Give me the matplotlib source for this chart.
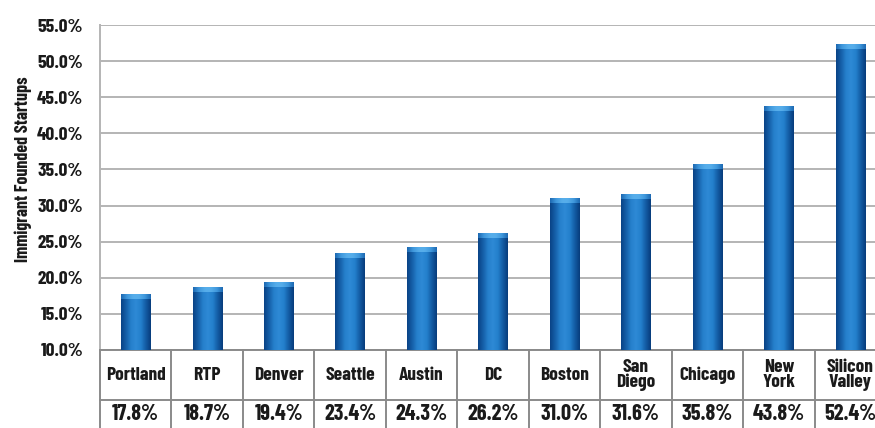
import numpy as np
import matplotlib
matplotlib.use("Agg")
import matplotlib.pyplot as plt
from matplotlib.colors import LinearSegmentedColormap

plt.rcParams['font.family'] = ['Barlow Condensed', 'DejaVu Sans']
FW = 700

cities = ["Portland", "RTP", "Denver", "Seattle", "Austin", "DC", "Boston",
          "San\nDiego", "Chicago", "New\nYork", "Silicon\nValley"]
values = [17.8, 18.7, 19.4, 23.4, 24.3, 26.2, 31.0, 31.6, 35.8, 43.8, 52.4]
yticks = [10, 15, 20, 25, 30, 35, 40, 45, 50, 55]
ylabel = "Immigrant Founded Startups"

W, H = 875, 428
fig = plt.figure(figsize=(W / 100, H / 100), dpi=100)
left, right, top, bottom = 100, 886, 25, 350
ax = fig.add_axes([left / W, 1 - bottom / H, (right - left) / W, (bottom - top) / H])

n = len(cities)
x = np.arange(n)

grid_c = "#b4b4b4"
for t in yticks:
    ax.axhline(t, color=grid_c, lw=1.4, zorder=1)

bw = 0.41
bars = ax.bar(x, [v - 10 for v in values], bottom=10, width=bw, color="#1b6fbd",
              zorder=2, linewidth=0)

cmap = LinearSegmentedColormap.from_list(
    "bar", ["#0a4386", "#155fa8", "#2680cc", "#2e8ad6", "#2480cc", "#135ca4", "#083d7c"])
cmap_top = LinearSegmentedColormap.from_list(
    "bartop", ["#1d69b2", "#3f98dc", "#56adea", "#56adea", "#3f98dc", "#1d69b2"])
grad = np.linspace(0, 1, 64).reshape(1, -1)
bev = 0.7
for b in bars:
    x0, y0 = b.get_x(), b.get_y()
    w, h = b.get_width(), b.get_height()
    im = ax.imshow(grad, cmap=cmap, extent=(x0, x0 + w, y0, y0 + h),
                   aspect="auto", zorder=3, interpolation="bilinear")
    im.set_clip_path(b)
    im2 = ax.imshow(grad, cmap=cmap_top, extent=(x0, x0 + w, y0 + h - bev, y0 + h),
                    aspect="auto", zorder=4, interpolation="bilinear")
    im2.set_clip_path(b)
ax.set_xlim(-0.5, n - 0.5)
ax.set_ylim(10, 55)

ax.set_yticks(yticks)
ax.set_yticklabels([f"{t:.1f}%" for t in yticks], fontsize=14, fontweight=FW,
                   color="#1a1a1a")
ax.tick_params(axis="y", length=0, pad=12)
ax.set_xticks([])
for s in ["top", "right"]:
    ax.spines[s].set_visible(False)
ax.spines["left"].set_color(grid_c)
ax.spines["left"].set_linewidth(1.4)
ax.spines["bottom"].set_color("#8a8a8a")
ax.spines["bottom"].set_linewidth(1.4)

ax.set_ylabel(ylabel, fontsize=13, fontweight=FW, color="#1a1a1a")
ax.yaxis.set_label_coords(-0.086, 0.557)

# table below the axes
ph = bottom - top
row1 = -50 / ph
tbl_c = "#8a8a8a"
ax.plot([0, 1], [row1, row1], transform=ax.transAxes, color=tbl_c, lw=1.4,
        clip_on=False)
for i in range(n + 1):
    xx = i / n
    ax.plot([xx, xx], [0, -0.4], transform=ax.transAxes, color=tbl_c, lw=1.4,
            clip_on=False)
for i, (c, v) in enumerate(zip(cities, values)):
    xc = (i + 0.5) / n
    ax.text(xc, -25 / ph, c, transform=ax.transAxes, ha="center", va="center",
            fontsize=14, fontweight=FW, color="#1a1a1a", linespacing=0.8)
    ax.text(xc, -63.5 / ph, f"{v:.1f}%", transform=ax.transAxes, ha="center",
            va="center", fontsize=16, fontweight=FW, color="#1a1a1a")

fig.savefig("out.png", dpi=100)
